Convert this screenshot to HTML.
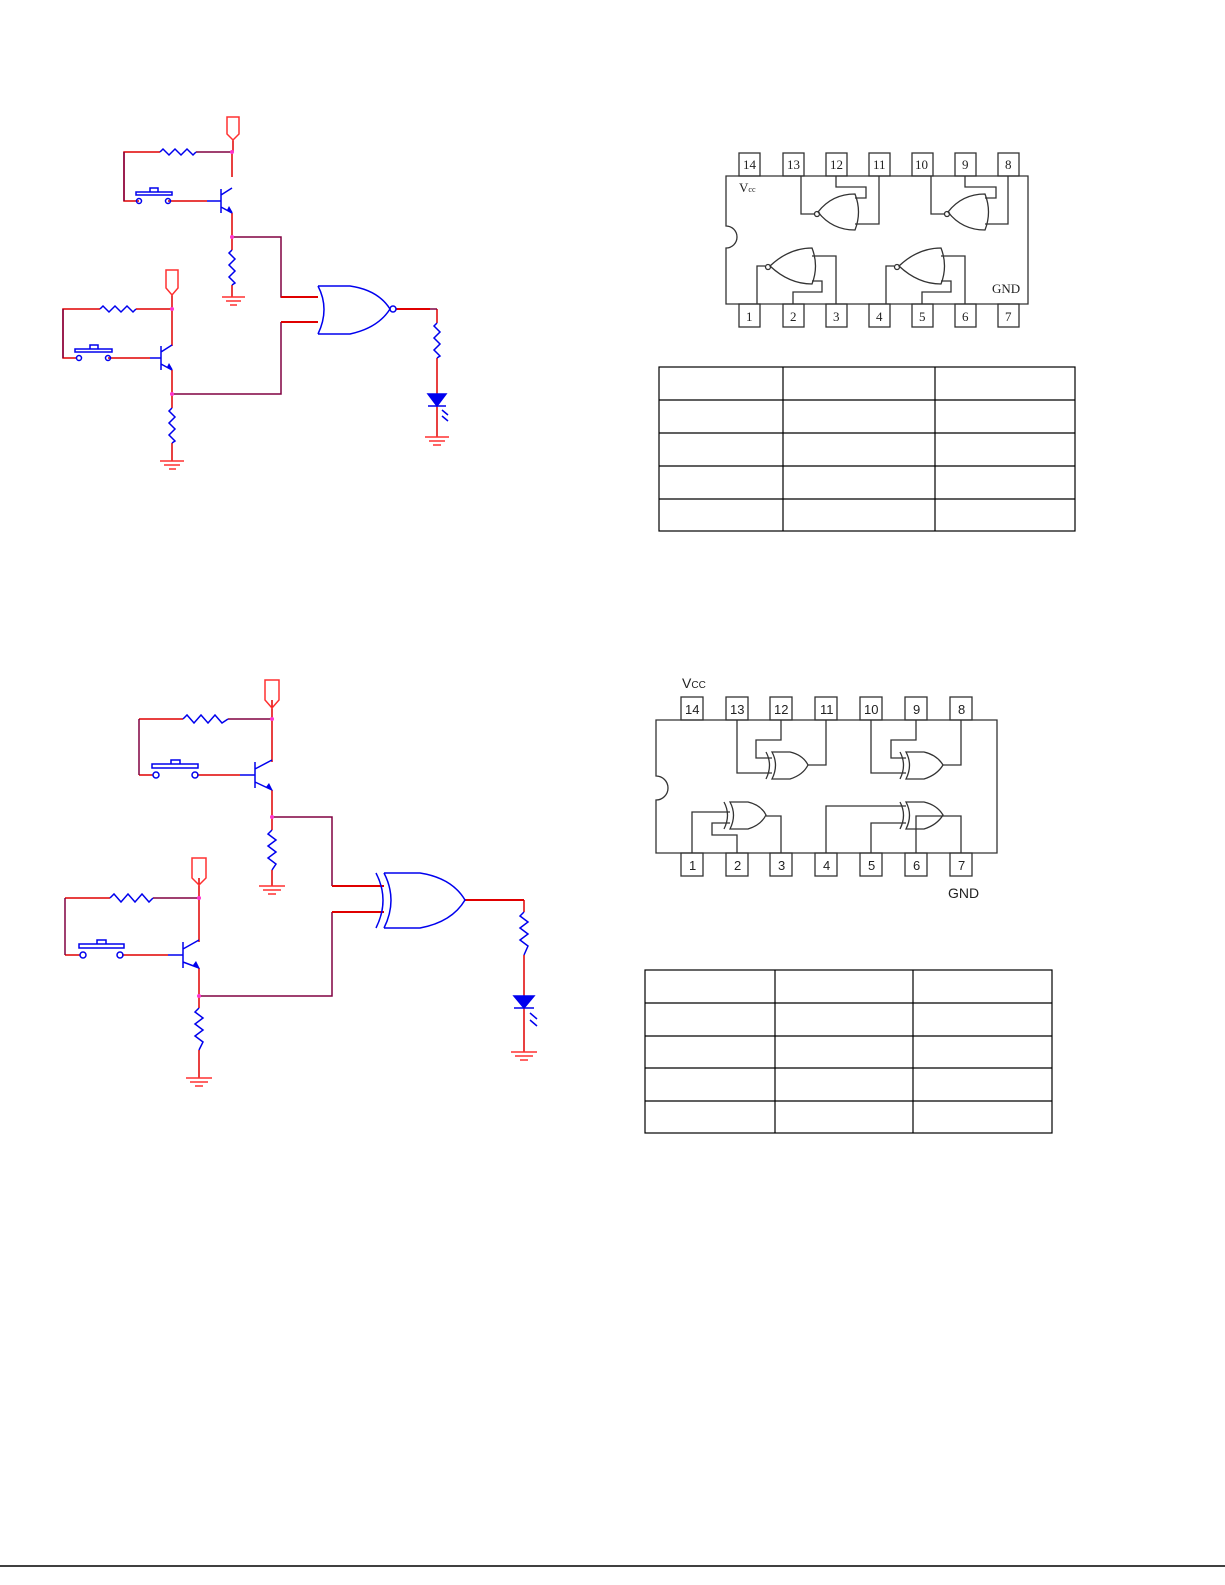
<!DOCTYPE html>
<html><head><style>
html,body{margin:0;padding:0;background:#fff}
svg{display:block}
text{font-family:"Liberation Serif",serif;font-size:13px;fill:#222}
</style></head><body>
<svg width="1225" height="1585" viewBox="0 0 1225 1585" xmlns="http://www.w3.org/2000/svg">
<g fill="none" stroke-width="1.5">
<!-- ===== Circuit 1 ===== -->
<g stroke="#e00000">
<path d="M233,140 V152 M160,152 H124 V201 H139 M168,201 H207 M232,152 V177 M232,213 V237 V250 M232,285 V297 M172,295 V309 M136,309 H172 V346 M100,309 H63 V358 H76 M108,358 H150 M172,370 V394 V408 M172,443 V461 M437,309 V323 M437,358 V394 M437,406 V437"/>
</g>
<g stroke="#800040">
<path d="M196,152 H232 M232,237 H281 V297 H318 M281,322 H318 M172,394 H281 V322 M396,309 H437 M124,152 V201 M63,309 V358"/>
</g>
<g stroke="#e00000" stroke-width="2"><path d="M281,297 H318 M281,322 H318 M396,309 H430"/></g>
<g stroke="#ff3030">
<path d="M227,117 H239 V134 L233,140 L227,134 Z"/>
<path d="M166,270 H178 V288 L172,295 L166,288 Z"/>
<path d="M222,297 H245 M226,301 H241 M230,305 H237 M160,461 H184 M164,465 H180 M169,469 H176 M425,437 H449 M429,441 H445 M433,445 H441"/>
</g>
<g stroke="#0000ee">
<path d="M160,152 L163,149 L169,155 L175,149 L181,155 L187,149 L193,155 L196,152"/>
<path d="M100,309 L103,306 L109,312 L115,306 L121,312 L127,306 L133,312 L136,309"/>
<path d="M232,250 L229,253 L235,259 L229,265 L235,271 L229,277 L235,283 L232,285"/>
<path d="M172,408 L169,411 L175,417 L169,423 L175,429 L169,435 L175,441 L172,443"/>
<path d="M437,323 L434,326 L440,332 L434,338 L440,344 L434,350 L440,356 L437,358"/>
<circle cx="139" cy="201" r="2.5"/><circle cx="168" cy="201" r="2.5"/>
<path d="M136,195 H172 V192 H136 Z M150,192 V188 H158 V192"/>
<circle cx="79" cy="358" r="2.5"/><circle cx="108" cy="358" r="2.5"/>
<path d="M75,352 H112 V349 H75 Z M90,349 V345 H98 V349"/>
<path d="M221,189 V213 M207,201 H221 M221,195 L232,188 M221,207 L232,213"/>
<path d="M161,346 V370 M150,358 H161 M161,352 L172,345 M161,364 L172,370"/>
<path d="M318,286 Q330,309 318,334 M318,286 H350 Q378,290 390,309 Q378,328 350,334 H318"/>
<circle cx="393" cy="309" r="3"/>
<path d="M428,394 H446 L437,406 Z" fill="#0000ee"/><path d="M428,406 H446"/>
<path d="M442,410 L448,415 M442,416 L448,421"/>
</g>
<g fill="#0000ee"><path d="M227,210 L233,213 L229,206 Z M167,367 L173,370 L169,363 Z"/></g>
<g fill="#ff33cc"><circle cx="232" cy="152" r="2"/><circle cx="232" cy="237" r="2"/><circle cx="172" cy="309" r="2"/><circle cx="172" cy="394" r="2"/></g>

<!-- ===== Circuit 2 ===== -->
<g stroke="#e00000">
<path d="M272,700 V719 V762 M183,719 H139 M139,775 H153 M197,775 H240 M272,790 V817 V830 M272,870 V886 M199,878 V898 V942 M110,898 H65 M65,955 H80 M122,955 H168 M199,968 V996 V1008 M199,1050 V1078 M524,900 V912 M524,955 V996 M524,1008 V1052"/>
</g>
<g stroke="#800040">
<path d="M228,719 H272 M139,719 V775 M65,898 V955 M153,898 H199 M272,817 H332 V886 M199,996 H332 V912"/>
</g>
<g stroke="#e00000" stroke-width="2"><path d="M332,886 H384 M332,912 H384 M465,900 H524"/></g>
<g stroke="#ff3030">
<path d="M265,680 H279 V700 L272,708 L265,700 Z"/>
<path d="M192,858 H206 V878 L199,885 L192,878 Z"/>
<path d="M259,886 H285 M263,890 H281 M268,894 H276 M186,1078 H212 M190,1082 H208 M195,1086 H203 M511,1052 H537 M515,1056 H533 M520,1060 H528"/>
</g>
<g stroke="#0000ee">
<path d="M183,719 L187,715 L194,723 L201,715 L208,723 L215,715 L222,723 L228,719"/>
<path d="M110,898 L114,894 L121,902 L128,894 L135,902 L142,894 L149,902 L153,898"/>
<path d="M272,830 L268,834 L276,840 L268,846 L276,852 L268,858 L276,864 L272,870"/>
<path d="M199,1008 L195,1012 L203,1018 L195,1024 L203,1030 L195,1036 L203,1042 L199,1050"/>
<path d="M524,912 L520,916 L528,922 L520,928 L528,934 L520,940 L528,946 L524,955"/>
<circle cx="156" cy="775" r="3"/><circle cx="195" cy="775" r="3"/>
<path d="M152,768 H198 V764 H152 Z M171,764 V760 H180 V764"/>
<circle cx="83" cy="955" r="3"/><circle cx="120" cy="955" r="3"/>
<path d="M79,948 H124 V944 H79 Z M97,944 V940 H106 V944"/>
<path d="M255,762 V788 M240,775 H255 M255,769 L272,760 M255,782 L272,790"/>
<path d="M183,942 V968 M168,955 H183 M183,949 L199,940 M183,962 L199,968"/>
<path d="M376,873 Q390,900 376,928"/>
<path d="M384,873 Q398,900 384,928 M384,873 H420 Q452,878 465,900 Q452,922 420,928 H384"/>
<path d="M514,996 H534 L524,1008 Z" fill="#0000ee"/><path d="M514,1008 H534"/>
<path d="M530,1013 L537,1019 M530,1020 L537,1026"/>
</g>
<g fill="#0000ee"><path d="M266,787 L273,791 L269,783 Z M193,965 L200,969 L196,961 Z"/></g>
<g fill="#ff33cc"><circle cx="272" cy="719" r="2"/><circle cx="272" cy="817" r="2"/><circle cx="199" cy="898" r="2"/><circle cx="199" cy="996" r="2"/></g>
</g>

<!-- ===== Chip 1 (7402 NOR) ===== -->
<g fill="none" stroke="#333" stroke-width="1.3">
<path d="M726,176 H1028 V304 H726 V248 A11,11 0 0 0 726,226 Z"/>
<rect x="739" y="153" width="21" height="23"/><rect x="783" y="153" width="21" height="23"/><rect x="826" y="153" width="21" height="23"/><rect x="869" y="153" width="21" height="23"/><rect x="912" y="153" width="21" height="23"/><rect x="955" y="153" width="21" height="23"/><rect x="998" y="153" width="21" height="23"/>
<rect x="739" y="304" width="21" height="23"/><rect x="783" y="304" width="21" height="23"/><rect x="826" y="304" width="21" height="23"/><rect x="869" y="304" width="21" height="23"/><rect x="912" y="304" width="21" height="23"/><rect x="955" y="304" width="21" height="23"/><rect x="998" y="304" width="21" height="23"/>
<!-- top gates -->
<path d="M801,176 V214 H814 M836,176 V187 H866 V198 H855 M879,176 V224 H855"/>
<path d="M855,194 Q862,212 855,230 Q832,230 818,212 Q832,194 855,194 Z"/><circle cx="817" cy="214" r="2.5"/>
<path d="M931,176 V214 H945 M965,176 V187 H996 V198 H985 M1008,176 V224 H985"/>
<path d="M985,194 Q992,212 985,230 Q962,230 948,212 Q962,194 985,194 Z"/><circle cx="947" cy="214" r="2.5"/>
<!-- bottom gates -->
<path d="M757,304 V266 H765 M836,304 V256 H812 M793,304 V292 H822 V281 H812"/>
<path d="M812,248 Q819,266 812,284 Q789,284 770,266 Q789,248 812,248 Z"/><circle cx="768" cy="267" r="2.5"/>
<path d="M886,304 V266 H894 M965,304 V256 H941 M922,304 V292 H951 V281 H941"/>
<path d="M941,248 Q948,266 941,284 Q918,284 899,266 Q918,248 941,248 Z"/><circle cx="897" cy="267" r="2.5"/>
</g>
<g>
<text x="743" y="169">14</text><text x="787" y="169">13</text><text x="830" y="169">12</text><text x="873" y="169">11</text><text x="915" y="169">10</text><text x="962" y="169">9</text><text x="1005" y="169">8</text>
<text x="746" y="321">1</text><text x="790" y="321">2</text><text x="833" y="321">3</text><text x="876" y="321">4</text><text x="919" y="321">5</text><text x="962" y="321">6</text><text x="1005" y="321">7</text>
<text x="739" y="192">V<tspan font-size="8">cc</tspan></text><text x="992" y="293">GND</text>
</g>

<!-- ===== Chip 2 (7486 XOR) ===== -->
<g fill="none" stroke="#333" stroke-width="1.3">
<path d="M656,720 H997 V853 H656 V800 A12,12 0 0 0 656,776 Z"/>
<rect x="681" y="697" width="22" height="23"/><rect x="726" y="697" width="22" height="23"/><rect x="770" y="697" width="22" height="23"/><rect x="815" y="697" width="22" height="23"/><rect x="860" y="697" width="22" height="23"/><rect x="905" y="697" width="22" height="23"/><rect x="950" y="697" width="22" height="23"/>
<rect x="681" y="853" width="22" height="23"/><rect x="726" y="853" width="22" height="23"/><rect x="770" y="853" width="22" height="23"/><rect x="815" y="853" width="22" height="23"/><rect x="860" y="853" width="22" height="23"/><rect x="905" y="853" width="22" height="23"/><rect x="950" y="853" width="22" height="23"/>
<path d="M737,720 V773 H772 M781,720 V740 H756 V758 H772 M826,720 V765 H808"/>
<path d="M766,752 Q773,765 766,779 M772,752 Q779,765 772,779 H790 Q803,775 808,765 Q803,755 790,752 Z"/>
<path d="M871,720 V773 H906 M916,720 V740 H891 V758 H906 M961,720 V765 H943"/>
<path d="M900,752 Q907,765 900,779 M906,752 Q913,765 906,779 H924 Q937,775 943,765 Q937,755 924,752 Z"/>
<path d="M692,853 V812 H730 M737,853 V835 H712 V823 H730 M781,853 V816 H766"/>
<path d="M724,802 Q731,815 724,829 M730,802 Q737,815 730,829 H748 Q761,825 766,815 Q761,805 748,802 Z"/>
<path d="M826,853 V806 H906 M871,853 V823 H906 M916,853 V816 H943 M961,853 V816 H943"/>
<path d="M900,802 Q907,815 900,829 M906,802 Q913,815 906,829 H924 Q937,825 943,815 Q937,805 924,802 Z"/>
</g>
<g font-family="Liberation Sans, sans-serif">
<text x="685" y="714" style="font-family:'Liberation Sans',sans-serif">14</text><text x="730" y="714" style="font-family:'Liberation Sans',sans-serif">13</text><text x="774" y="714" style="font-family:'Liberation Sans',sans-serif">12</text><text x="820" y="714" style="font-family:'Liberation Sans',sans-serif">11</text><text x="864" y="714" style="font-family:'Liberation Sans',sans-serif">10</text><text x="913" y="714" style="font-family:'Liberation Sans',sans-serif">9</text><text x="958" y="714" style="font-family:'Liberation Sans',sans-serif">8</text>
<text x="689" y="870" style="font-family:'Liberation Sans',sans-serif">1</text><text x="734" y="870" style="font-family:'Liberation Sans',sans-serif">2</text><text x="778" y="870" style="font-family:'Liberation Sans',sans-serif">3</text><text x="823" y="870" style="font-family:'Liberation Sans',sans-serif">4</text><text x="868" y="870" style="font-family:'Liberation Sans',sans-serif">5</text><text x="913" y="870" style="font-family:'Liberation Sans',sans-serif">6</text><text x="958" y="870" style="font-family:'Liberation Sans',sans-serif">7</text>
<text x="682" y="688" style="font-family:'Liberation Sans',sans-serif;font-size:14px">V<tspan font-size="10">CC</tspan></text>
<text x="948" y="898" style="font-family:'Liberation Sans',sans-serif;font-size:14px">GND</text>
</g>

<!-- ===== Tables ===== -->
<g fill="none" stroke="#000" stroke-width="1.2">
<rect x="659" y="367" width="416" height="164"/>
<path d="M783,367 V531 M935,367 V531 M659,400 H1075 M659,433 H1075 M659,466 H1075 M659,499 H1075"/>
<rect x="645" y="970" width="407" height="163"/>
<path d="M775,970 V1133 M913,970 V1133 M645,1003 H1052 M645,1036 H1052 M645,1068 H1052 M645,1101 H1052"/>
<path d="M0,1566 H1225" stroke-width="1.5"/>
</g>
</svg>
</body></html>
